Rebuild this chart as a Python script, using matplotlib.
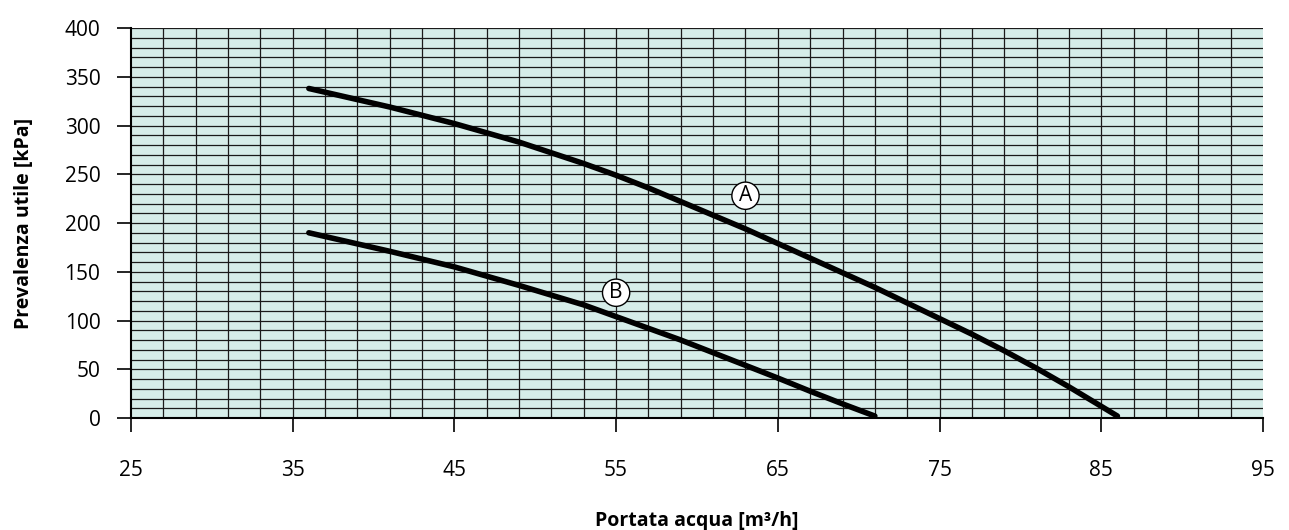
import numpy as np
import matplotlib.pyplot as plt

plt.rcParams['font.family'] = ['Open Sans', 'DejaVu Sans']

# Curve A
flow_a = [36, 41, 45, 49, 53, 55, 57, 59, 61, 63, 65, 67, 69, 71, 73, 75, 77, 79, 81, 83, 85, 86]
head_a = [338, 319, 302, 283, 261, 249, 236, 222, 208, 194, 179, 164, 149, 134, 118, 102, 86, 69, 51, 32, 12, 2]

# Curve B
flow_b = [36, 41, 45, 49, 53, 55, 57, 59, 61, 63, 65, 67, 69, 71]
head_b = [190, 171, 155, 136, 116, 104, 92, 80, 67, 54, 41, 27.5, 14.5, 2]

x_ticks = [25, 35, 45, 55, 65, 75, 85, 95]
y_ticks = [0, 50, 100, 150, 200, 250, 300, 350, 400]

fig = plt.figure(figsize=(12.89, 5.30), dpi=100)
ax = fig.add_axes([0.1016, 0.2113, 0.8782, 0.7358])
ax.set_facecolor('#d6ede9')

# background grid (every 2 m3/h, every 10 kPa)
for gx in np.arange(27, 95, 2):
    ax.axvline(gx, color='#1a1a1a', lw=0.9, zorder=1)
for gy in np.arange(10, 401, 10):
    ax.axhline(gy, color='#1a1a1a', lw=0.9, zorder=1)

ax.plot(flow_a, head_a, color='black', lw=4, solid_capstyle='round', solid_joinstyle='round', zorder=3)
ax.plot(flow_b, head_b, color='black', lw=4, solid_capstyle='round', solid_joinstyle='round', zorder=3)

circ = dict(boxstyle='circle,pad=0.15', fc='white', ec='black', lw=1)
ax.text(63, 228, 'A', ha='center', va='center', fontsize=15, bbox=circ, zorder=4)
ax.text(55, 128.5, 'B', ha='center', va='center', fontsize=15, bbox=circ, zorder=4)

ax.set_xlim(25, 95)
ax.set_ylim(0, 400)
ax.set_xticks(x_ticks)
ax.set_yticks(y_ticks)
ax.tick_params(axis='both', direction='out', length=10, width=1.2, labelsize=15, colors='black')
ax.tick_params(axis='x', pad=20)
ax.tick_params(axis='y', pad=12)
for s in ['top', 'right']:
    ax.spines[s].set_visible(False)
for s in ['left', 'bottom']:
    ax.spines[s].set_linewidth(1.5)

ax.set_xlabel('Portata acqua [m³/h]', fontsize=14, fontweight='bold', labelpad=22)
ax.set_ylabel('Prevalenza utile [kPa]', fontsize=14, fontweight='bold', labelpad=22)

fig.savefig('out.png', dpi=100)
